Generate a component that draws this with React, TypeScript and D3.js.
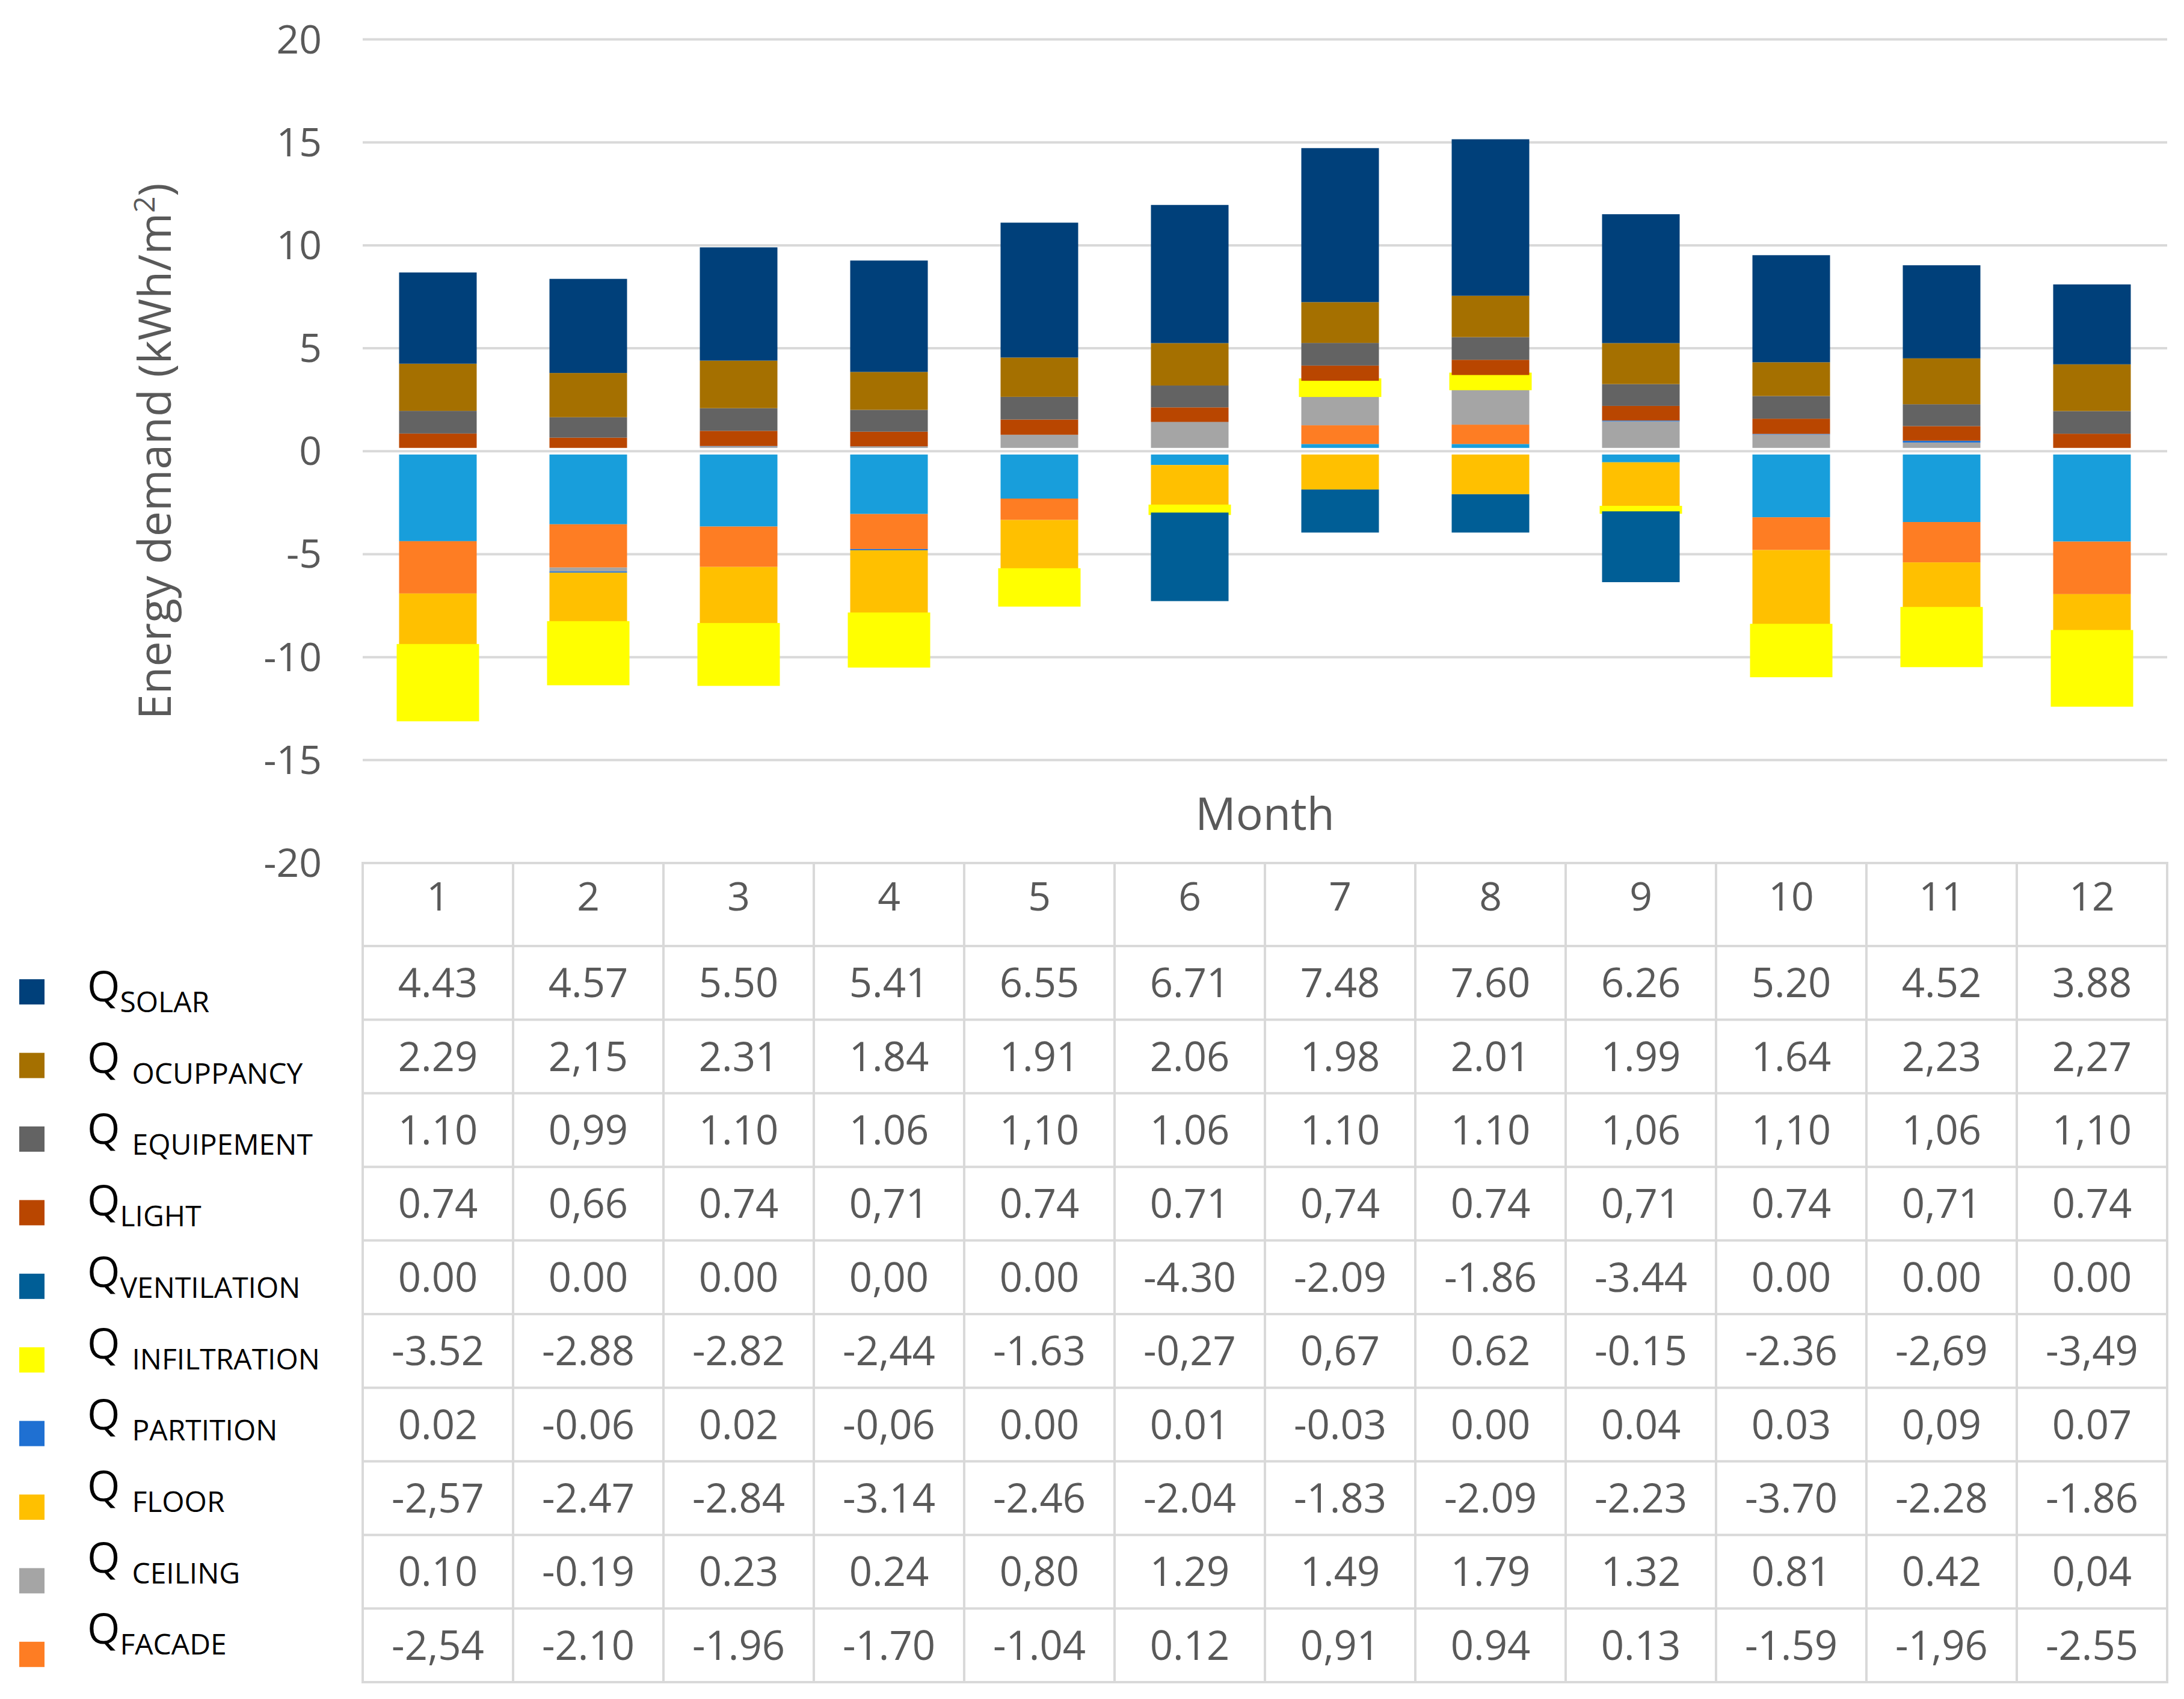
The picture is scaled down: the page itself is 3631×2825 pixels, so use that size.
import * as d3 from "d3";

// Months on the x axis / table header
const MONTHS = ["1", "2", "3", "4", "5", "6", "7", "8", "9", "10", "11", "12"];

// Table rows, exactly as printed (some cells use a decimal comma)
const SOLAR = ["4.43", "4.57", "5.50", "5.41", "6.55", "6.71", "7.48", "7.60", "6.26", "5.20", "4.52", "3.88"];
const OCUPPANCY = ["2.29", "2,15", "2.31", "1.84", "1.91", "2.06", "1.98", "2.01", "1.99", "1.64", "2,23", "2,27"];
const EQUIPEMENT = ["1.10", "0,99", "1.10", "1.06", "1,10", "1.06", "1.10", "1.10", "1,06", "1,10", "1,06", "1,10"];
const LIGHT = ["0.74", "0,66", "0.74", "0,71", "0.74", "0.71", "0,74", "0.74", "0,71", "0.74", "0,71", "0.74"];
const VENTILATION = ["0.00", "0.00", "0.00", "0,00", "0.00", "-4.30", "-2.09", "-1.86", "-3.44", "0.00", "0.00", "0.00"];
const INFILTRATION = ["-3.52", "-2.88", "-2.82", "-2,44", "-1.63", "-0,27", "0,67", "0.62", "-0.15", "-2.36", "-2,69", "-3,49"];
const PARTITION = ["0.02", "-0.06", "0.02", "-0,06", "0.00", "0.01", "-0.03", "0.00", "0.04", "0.03", "0,09", "0.07"];
const FLOOR = ["-2,57", "-2.47", "-2.84", "-3.14", "-2.46", "-2.04", "-1.83", "-2.09", "-2.23", "-3.70", "-2.28", "-1.86"];
const CEILING = ["0.10", "-0.19", "0.23", "0.24", "0,80", "1.29", "1.49", "1.79", "1.32", "0.81", "0.42", "0,04"];
const FACADE = ["-2,54", "-2.10", "-1.96", "-1.70", "-1.04", "0.12", "0,91", "0.94", "0.13", "-1.59", "-1,96", "-2.55"];

// light-blue series drawn in the bars but not listed in the legend/table
const UNLISTED = [-4.37, -3.55, -3.66, -3.05, -2.3, -0.67, 0.35, 0.35, -0.54, -3.21, -3.44, -4.39];

const Y_TICKS = [20, 15, 10, 5, 0, -5, -10, -15, -20];

// legend / table row order
const ROWS = [
  { key: "solar", sub: "SOLAR", spaced: false, color: "#00407a", values: SOLAR },
  { key: "occ", sub: "OCUPPANCY", spaced: true, color: "#a57000", values: OCUPPANCY },
  { key: "equip", sub: "EQUIPEMENT", spaced: true, color: "#636363", values: EQUIPEMENT },
  { key: "light", sub: "LIGHT", spaced: false, color: "#b94600", values: LIGHT },
  { key: "vent", sub: "VENTILATION", spaced: false, color: "#005e96", values: VENTILATION },
  { key: "infil", sub: "INFILTRATION", spaced: true, color: "#ffff00", values: INFILTRATION },
  { key: "part", sub: "PARTITION", spaced: true, color: "#1f70d2", values: PARTITION },
  { key: "floor", sub: "FLOOR", spaced: true, color: "#ffc000", values: FLOOR },
  { key: "ceil", sub: "CEILING", spaced: true, color: "#a5a5a5", values: CEILING },
  { key: "facade", sub: "FACADE", spaced: false, color: "#fe7d23", values: FACADE },
];

// stacking order used by the bars (bottom-up for positives, top-down for negatives)
const STACK_ORDER = ["unlisted", "facade", "ceil", "part", "floor", "infil", "vent", "light", "equip", "occ", "solar"];

const num = (s: string) => parseFloat(s.replace(",", "."));

const W = 3631;
const H = 2825;
const FONT = "'Open Sans', 'Noto Sans', sans-serif";
const TEXT = "#595959";
const GRID = "#d9d9d9";

export default function App() {
  const left = 603;
  const right = 3603;
  const y = d3.scaleLinear().domain([-20, 20]).range([1435, 65.5]);
  const x = d3.scaleBand<string>().domain(MONTHS).range([left, right]).paddingInner(0.484).paddingOuter(0.242);
  const col = d3.scaleBand<string>().domain(MONTHS).range([left, right]).padding(0);

  const colorOf: Record<string, string> = { unlisted: "#189edb" };
  ROWS.forEach((r) => (colorOf[r.key] = r.color));

  const table = MONTHS.map((m, i) => {
    const row: Record<string, number | string> = { month: m, unlisted: UNLISTED[i] };
    ROWS.forEach((r) => (row[r.key] = num(r.values[i])));
    return row;
  });

  const series = d3
    .stack<Record<string, number | string>>()
    .keys(STACK_ORDER)
    .value((d, k) => d[k] as number)
    .offset(d3.stackOffsetDiverging)(table);

  // table geometry
  const tableTop = y(-20);
  const headerBottom = 1573;
  const rowH = 122.4;
  const tableBottom = headerBottom + rowH * ROWS.length;
  const rowCenter = (i: number) => headerBottom + rowH * (i + 0.5);

  return (
    <div>
      <style>{`body{margin:0}`}</style>
      <svg width={W} height={H} style={{ display: "block", background: "#fff" }} fontFamily={FONT}>
        <rect width={W} height={H} fill="#fff" />

        {/* gridlines */}
        {Y_TICKS.filter((t) => t > -20 && t !== 0).map((t) => (
          <line key={t} x1={left} x2={right} y1={y(t)} y2={y(t)} stroke={GRID} strokeWidth={4} />
        ))}

        {/* y tick labels */}
        {Y_TICKS.map((t) => (
          <text key={t} x={535} y={y(t) + 23} textAnchor="end" fontSize={66} fill={TEXT}>
            {t}
          </text>
        ))}

        {/* y axis title */}
        <text transform={`translate(284, ${y(0)}) rotate(-90)`} textAnchor="middle" fontSize={75} fill={TEXT}>
          Energy demand (kWh/m
          <tspan fontSize={48} dy={-27}>
            2
          </tspan>
          <tspan dy={27}>)</tspan>
        </text>

        {/* stacked bars */}
        {series.map((s) => (
          <g key={s.key}>
            {s.map((d, i) => {
              const y0 = y(d[1]);
              const y1 = y(d[0]);
              const h = Math.abs(y1 - y0);
              if (h < 0.01) return null;
              const isInfil = s.key === "infil";
              return (
                <rect
                  key={i}
                  x={x(MONTHS[i])}
                  y={Math.min(y0, y1)}
                  width={x.bandwidth()}
                  height={h}
                  fill={colorOf[s.key]}
                  stroke={isInfil ? colorOf[s.key] : "none"}
                  strokeWidth={isInfil ? 8 : 0}
                />
              );
            })}
          </g>
        ))}

        {/* zero line with white halo over the bars */}
        <line x1={left} x2={right} y1={y(0)} y2={y(0)} stroke="#fff" strokeWidth={11} />
        <line x1={left} x2={right} y1={y(0)} y2={y(0)} stroke={GRID} strokeWidth={4} />

        {/* x axis title */}
        <text x={(left + right) / 2} y={1380} textAnchor="middle" fontSize={75} fill={TEXT}>
          Month
        </text>

        {/* data table grid */}
        <g stroke={GRID} strokeWidth={4}>
          {[tableTop, ...d3.range(ROWS.length + 1).map((k) => headerBottom + k * rowH)].map((yy, k) => (
            <line key={"h" + k} x1={left - 2} x2={right + 2} y1={yy} y2={yy} />
          ))}
          {MONTHS.map((m) => (
            <line key={"v" + m} x1={col(m)} x2={col(m)} y1={tableTop} y2={tableBottom} />
          ))}
          <line x1={right} x2={right} y1={tableTop} y2={tableBottom} />
        </g>

        {/* header */}
        {MONTHS.map((m) => (
          <text key={m} x={col(m)! + col.bandwidth() / 2} y={1514} textAnchor="middle" fontSize={66} fill={TEXT}>
            {m}
          </text>
        ))}

        {/* table cells */}
        {ROWS.map((r, ri) =>
          r.values.map((v, ci) => (
            <text
              key={r.key + ci}
              x={col(MONTHS[ci])! + col.bandwidth() / 2}
              y={rowCenter(ri) + 24}
              textAnchor="middle"
              fontSize={67}
              fill={TEXT}
            >
              {v}
            </text>
          )),
        )}

        {/* legend */}
        {ROWS.map((r, ri) => {
          const base = 1665 + ri * 118.7;
          return (
            <g key={"lg" + r.key}>
              <rect x={32} y={rowCenter(ri) + 15 - 21} width={42} height={42} fill={r.color} />
              <text x={145} y={base} fill="#000" fontSize={70}>
                Q
                <tspan fontSize={48} dx={r.spaced ? 20 : 0} dy={18}>
                  {r.sub}
                </tspan>
              </text>
            </g>
          );
        })}
      </svg>
    </div>
  );
}
